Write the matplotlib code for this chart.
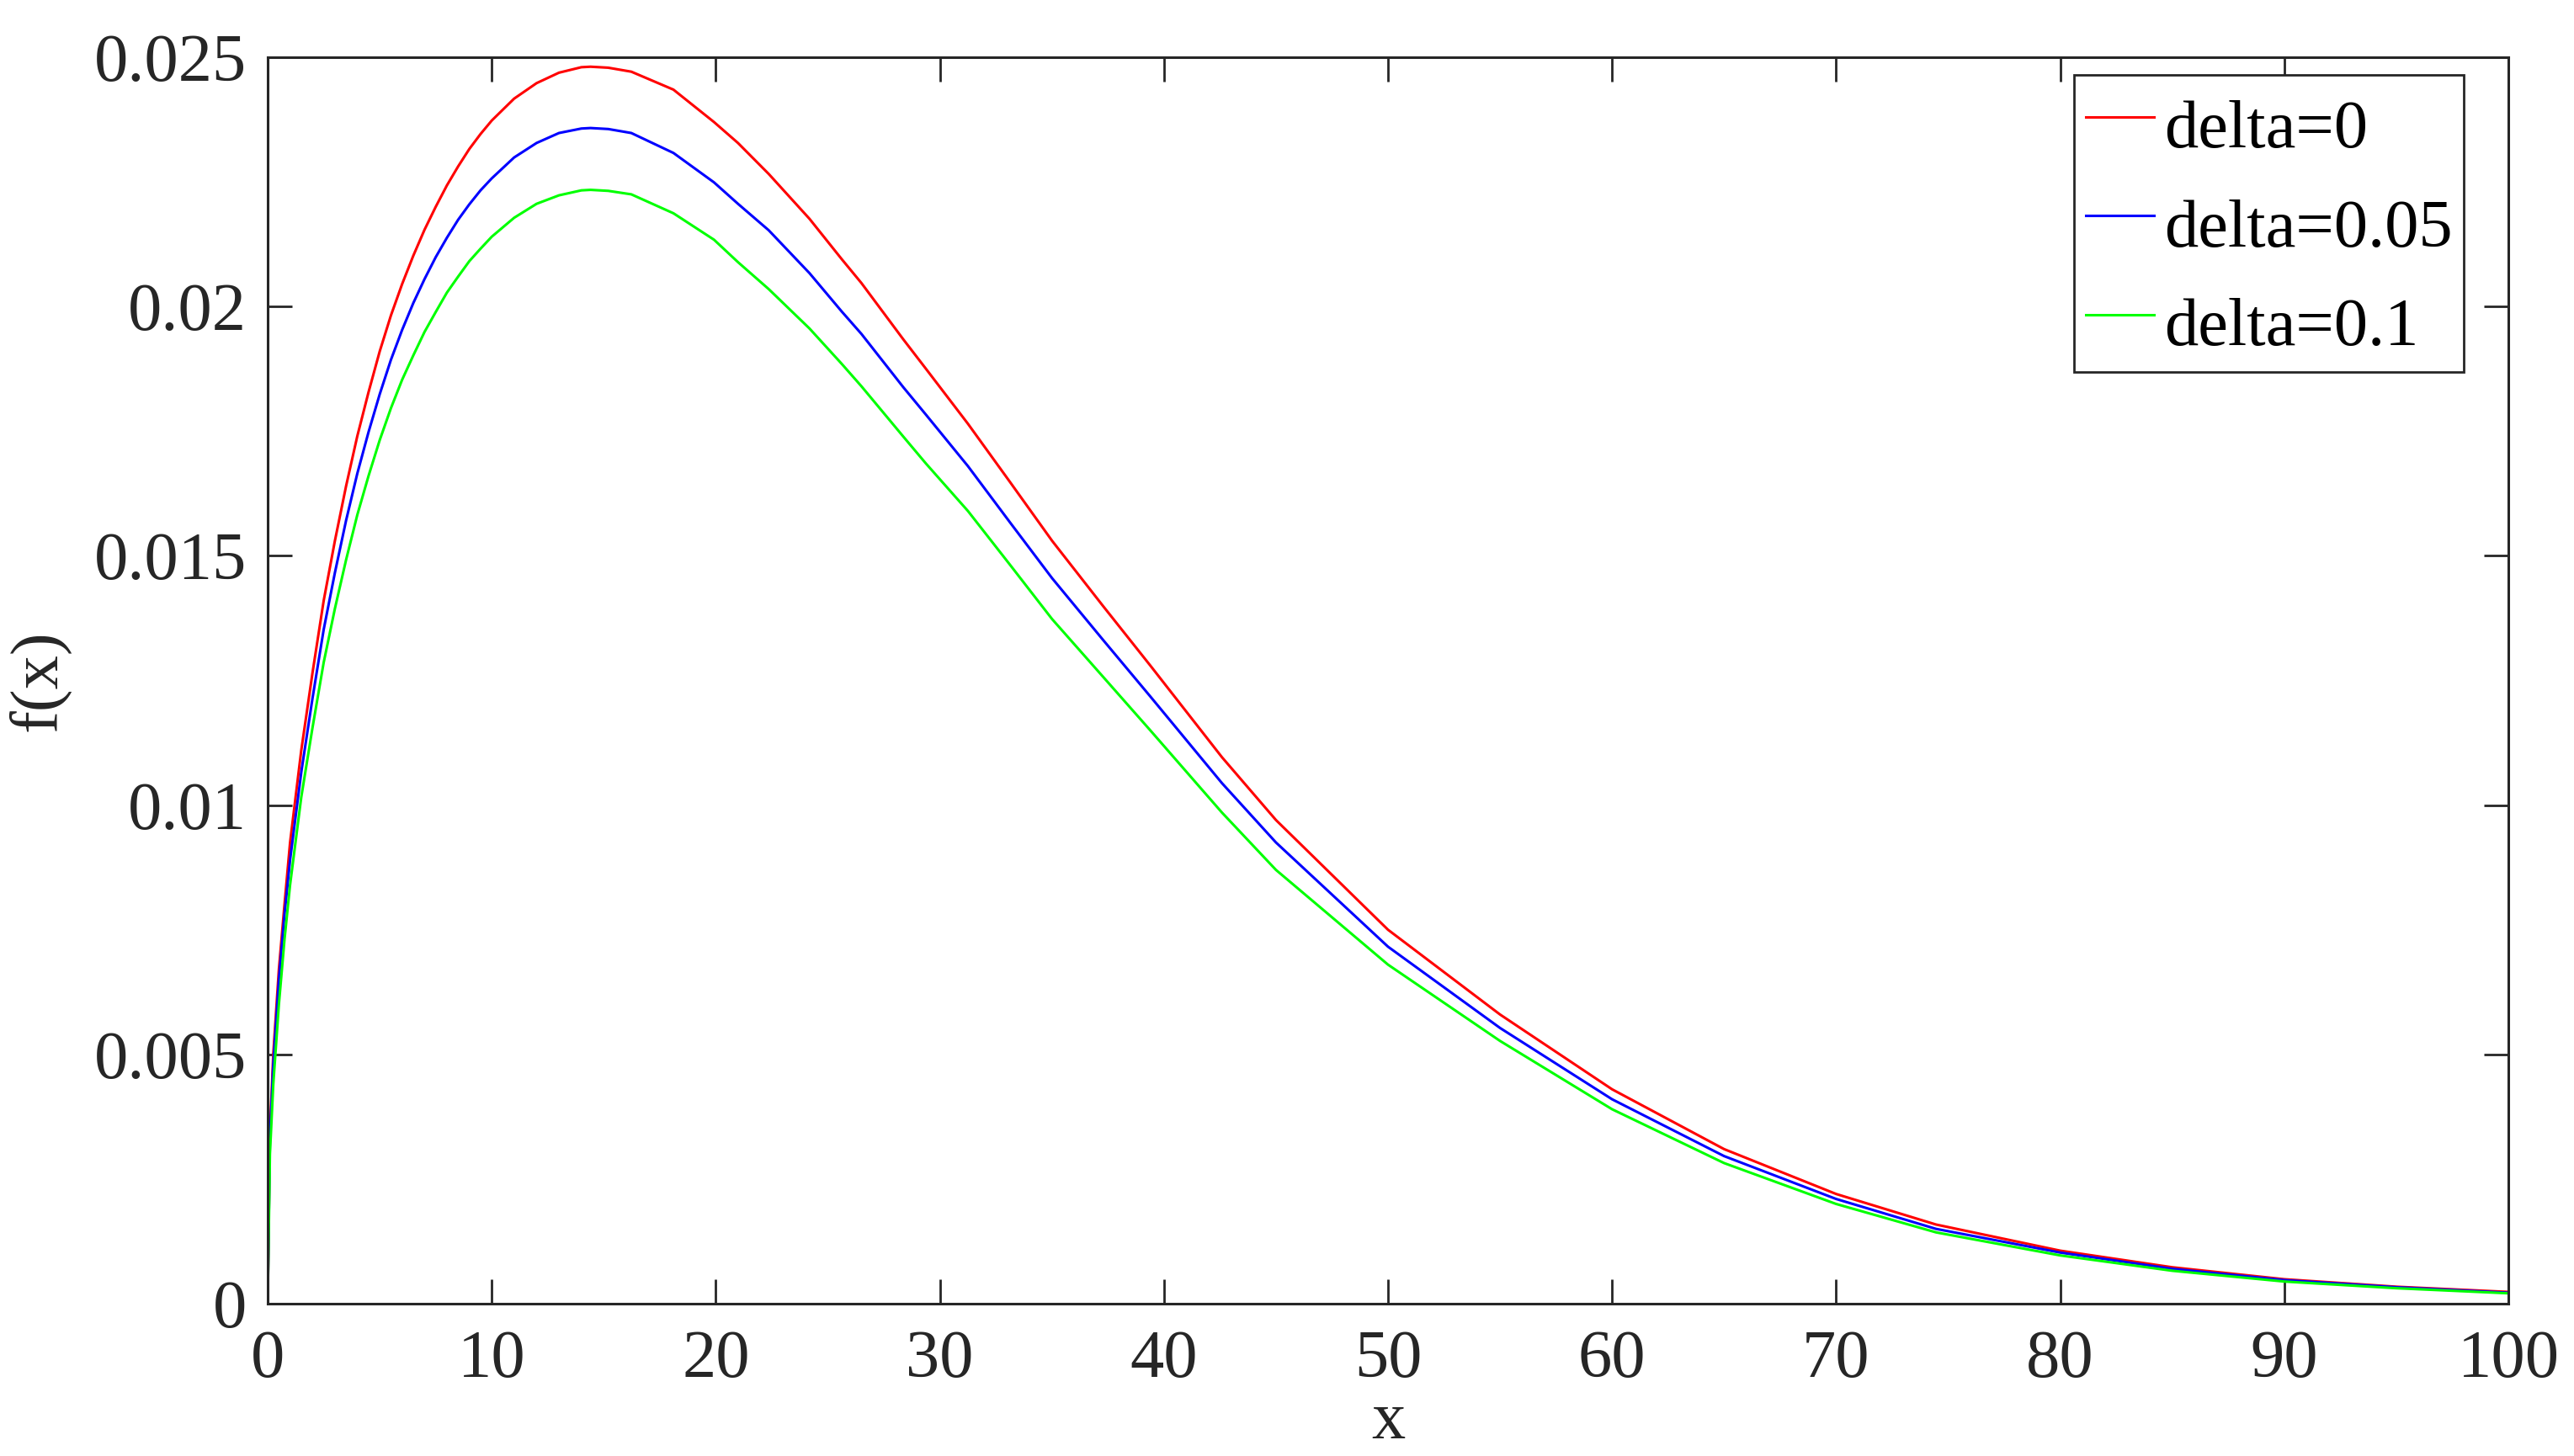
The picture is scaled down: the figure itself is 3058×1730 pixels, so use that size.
import matplotlib
matplotlib.use("Agg")
import matplotlib.pyplot as plt

plt.rcParams["font.family"] = ["Liberation Serif", "DejaVu Serif"]

# --- data ---
X_RISE = [0, 0.1, 0.25, 0.5, 0.75, 1, 1.5, 2, 2.5, 3, 3.5, 4, 4.5, 5, 5.5, 6, 6.5, 7,
          7.5, 8, 8.5, 9, 9.5, 10, 11, 12, 13, 14, 14.41]
Y_RED_RISE = [0, 0.0034, 0.0050, 0.0067, 0.0080, 0.00925, 0.0111, 0.01265, 0.0141, 0.0153,
              0.0164, 0.0174, 0.01828, 0.0191, 0.01982, 0.02045, 0.02102, 0.02154, 0.0220,
              0.02243, 0.02281, 0.02316, 0.02346, 0.02373, 0.02417, 0.02448, 0.02469,
              0.0248, 0.02481]
Y_BLUE_RISE = [0, 0.0033, 0.0048, 0.0065, 0.0078, 0.0089, 0.01066, 0.01214, 0.01352,
               0.01466, 0.01571, 0.01665, 0.01748, 0.01824, 0.01893, 0.01953, 0.02007,
               0.02055, 0.02099, 0.02138, 0.02174, 0.02205, 0.02233, 0.02257, 0.02299,
               0.02328, 0.02348, 0.02357, 0.02358]
Y_GREEN_RISE = [0, 0.0030, 0.0044, 0.0060, 0.0073, 0.0084, 0.01016, 0.01155, 0.01286,
                0.01394, 0.01492, 0.01582, 0.0166, 0.01732, 0.01796, 0.01853, 0.01902,
                0.01949, 0.01989, 0.02028, 0.0206, 0.02091, 0.02116, 0.0214, 0.02178,
                0.02206, 0.02223, 0.02233, 0.02234]

X_FALL = [15.2, 16.23, 18.11, 19.92, 20.99, 22.36, 24.18, 25.62, 26.5, 28.37, 29.38,
          31.25, 33.13, 35.01, 37.27, 39.39, 42.59, 45, 50, 55, 60, 65, 70, 74.46, 80,
          85, 90, 95, 100]
Y_RED_FALL = [0.02479, 0.02471, 0.02435, 0.02370, 0.02328, 0.02266, 0.02176, 0.02095,
              0.02047, 0.01934, 0.01875, 0.01765, 0.01648, 0.01530, 0.01400, 0.01280,
              0.01096, 0.0097, 0.0075, 0.0058, 0.0043, 0.0031, 0.0022, 0.001587,
              0.001063, 0.00073, 0.00049, 0.00034, 0.000236]
Y_BLUE_FALL = [0.02356, 0.02348, 0.02308, 0.02249, 0.02206, 0.02153, 0.02067, 0.01990,
               0.01945, 0.01838, 0.01783, 0.01680, 0.01567, 0.01455, 0.01332, 0.01218,
               0.01044, 0.00925, 0.00716, 0.00553, 0.0041, 0.00296, 0.0021, 0.00150,
               0.001025, 0.0007, 0.000473, 0.00033, 0.00022]
Y_GREEN_FALL = [0.02232, 0.02225, 0.02187, 0.02134, 0.02089, 0.02035, 0.01956, 0.01885,
                0.01840, 0.01739, 0.01685, 0.01590, 0.01482, 0.01373, 0.01258, 0.01150,
                0.00985, 0.0087, 0.0068, 0.00527, 0.0039, 0.00282, 0.0020, 0.00143,
                0.000968, 0.00066, 0.000444, 0.00031, 0.000208]

LABELS = ["delta=0", "delta=0.05", "delta=0.1"]
COLORS = ["#ff0000", "#0000ff", "#00ff00"]

X_TICKS = list(range(0, 101, 10))
Y_TICKS = [0, 0.005, 0.01, 0.015, 0.02, 0.025]
Y_TICKLABELS = ["0", "0.005", "0.01", "0.015", "0.02", "0.025"]

FS = 29
DARK = "#262626"

fig = plt.figure(figsize=(15.29, 8.65), dpi=200)
ax = fig.add_axes([0.10399, 0.10462, 0.87050, 0.85607])

xs = X_RISE + X_FALL
for rise, fall, lab, col in zip([Y_RED_RISE, Y_BLUE_RISE, Y_GREEN_RISE],
                                [Y_RED_FALL, Y_BLUE_FALL, Y_GREEN_FALL], LABELS, COLORS):
    ax.plot(xs, rise + fall, color=col, linewidth=1.1, label=lab)

ax.set_xlim(0, 100)
ax.set_ylim(0, 0.025)
ax.set_xticks(X_TICKS)
ax.set_yticks(Y_TICKS)
ax.set_yticklabels(Y_TICKLABELS)

ax.tick_params(direction="in", length=10.5, width=1.0, colors=DARK, labelsize=FS,
               top=True, right=True, labelcolor=DARK)
ax.tick_params(axis="x", pad=11)
ax.tick_params(axis="y", pad=9)
for sp in ax.spines.values():
    sp.set_color(DARK)
    sp.set_linewidth(1.1)

ax.set_xlabel("x", fontsize=FS, color=DARK, labelpad=0)
ax.set_ylabel("f(x)", fontsize=FS, color=DARK, labelpad=10)

leg = ax.legend(loc="upper right", bbox_to_anchor=(0.9801, 0.9858), borderaxespad=0,
                fontsize=FS, frameon=True, fancybox=False, framealpha=1,
                edgecolor=DARK, borderpad=0.17, labelspacing=0.33, handleheight=1.36,
                handlelength=1.0, handletextpad=0.15)
leg.get_frame().set_linewidth(1.0)

fig.savefig("out.png", dpi=200)
